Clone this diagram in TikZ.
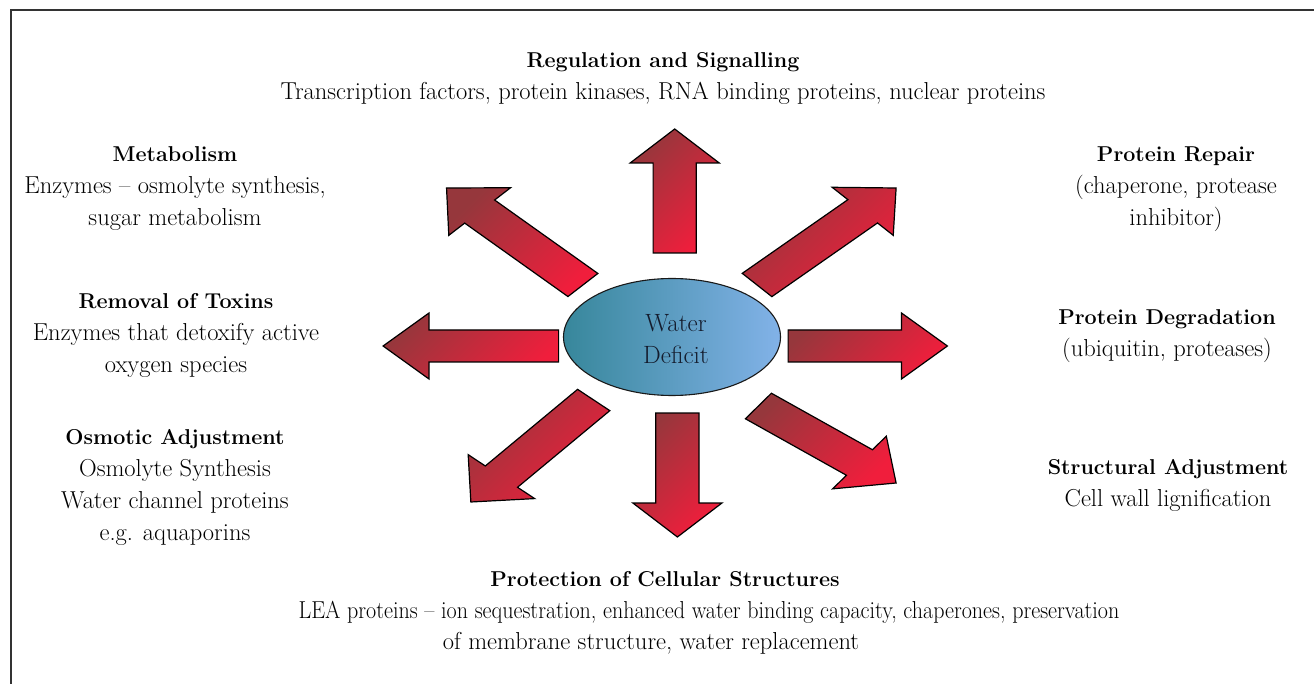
\documentclass[tikz,border=0pt]{standalone}
\usepackage{fontspec}
\usetikzlibrary{calc,shapes.geometric}
\definecolor{arrdark}{RGB}{150,55,60}
\definecolor{arrbright}{RGB}{240,30,60}
\definecolor{elldark}{RGB}{55,135,155}
\definecolor{elllight}{RGB}{130,178,232}
\definecolor{wdtext}{RGB}{20,28,45}
\newcommand\hd{\fontsize{21.5}{32}\selectfont\bfseries}
\newcommand\blockarrow[4]{%
  \pgfmathsetmacro\arang{atan2(-(#4-#2),#3-#1)}%
  \pgfmathsetmacro\arlen{veclen(#3-#1,#4-#2)}%
  \pgfmathsetmacro\arhb{\arlen-34}%
  \begin{scope}[shift={(#1,#2)}, rotate=\arang]
    \draw[arrowbody] (0pt,16pt) -- (\arhb pt,16pt) -- (\arhb pt,33pt) -- (\arlen pt,0pt)
      -- (\arhb pt,-33pt) -- (\arhb pt,-16pt) -- (0pt,-16pt) -- cycle;
  \end{scope}}
\begin{document}
\begin{tikzpicture}[x=1pt,y=-1pt,
  lbl/.style={font=\fontsize{24.5}{32}\selectfont, align=center, inner sep=0pt, text=black},
  arrowbody/.style={draw=black, line width=1.2pt, line join=miter,
    top color=arrdark, bottom color=arrbright, shading angle=45},
  frame/.style={draw=black!80, line width=1.4pt}]
\useasboundingbox (0,0) rectangle (1314,684);
\fill[white] (0,0) rectangle (1314,684);
\begin{scope}
\clip (0,0) rectangle (1314,684);
\draw[frame] (11,10) rectangle (1330,700);
\end{scope}

% block arrows, drawn in a horizontally stretched frame around the centre
\begin{scope}[shift={(672,337)}, xscale=1.35]
  \blockarrow{2}{-84}{2}{-208}
  \blockarrow{4}{76}{4}{200}
  \blockarrow{-84}{9}{-214}{9}
  \blockarrow{86}{9}{204}{9}
  \blockarrow{63}{-52}{166}{-149}
  \blockarrow{-66}{-52}{-167}{-149}
  \blockarrow{64}{69}{166}{146}
  \blockarrow{-58}{63}{-149}{165}
\end{scope}

\node[ellipse, draw=black!90, line width=1.1pt, minimum width=217pt, minimum height=117pt,
  left color=elldark, right color=elllight, inner sep=0pt] (wd) at (672,337) {};
\node[font=\fontsize{25}{32}\selectfont, align=center, text=wdtext, inner sep=0pt] (wdt) at (676,339) {Water\\Deficit};

\node[lbl] (reg) at (663,78) {{\hd Regulation and Signalling}\\Transcription factors, protein kinases, RNA binding proteins, nuclear proteins};
\node[lbl] (met) at (175,189) {{\hd Metabolism}\\Enzymes -- osmolyte synthesis,\\sugar metabolism};
\node[lbl] (tox) at (176,335) {{\hd Removal of Toxins}\\Enzymes that detoxify active\\oxygen species};
\node[lbl] (osm) at (175,487) {{\hd Osmotic Adjustment}\\Osmolyte Synthesis\\Water channel proteins\\e.g. aquaporins};
\node[lbl] (rep) at (1176,189) {{\hd Protein Repair}\\(chaperone, protease\\inhibitor)};
\node[lbl] (deg) at (1167,336) {{\hd Protein Degradation}\\(ubiquitin, proteases)};
\node[lbl] (str) at (1168,485) {{\hd Structural Adjustment}\\Cell wall lignification};
\node[lbl] (pro) at (665,579) {{\hd Protection of Cellular Structures}};
\node[lbl, xscale=0.9, transform shape] (pro2) at (709,612) {LEA proteins -- ion sequestration, enhanced water binding capacity, chaperones, preservation};
\node[lbl] (pro3) at (651,643) {of membrane structure, water replacement};
\end{tikzpicture}
\end{document}
